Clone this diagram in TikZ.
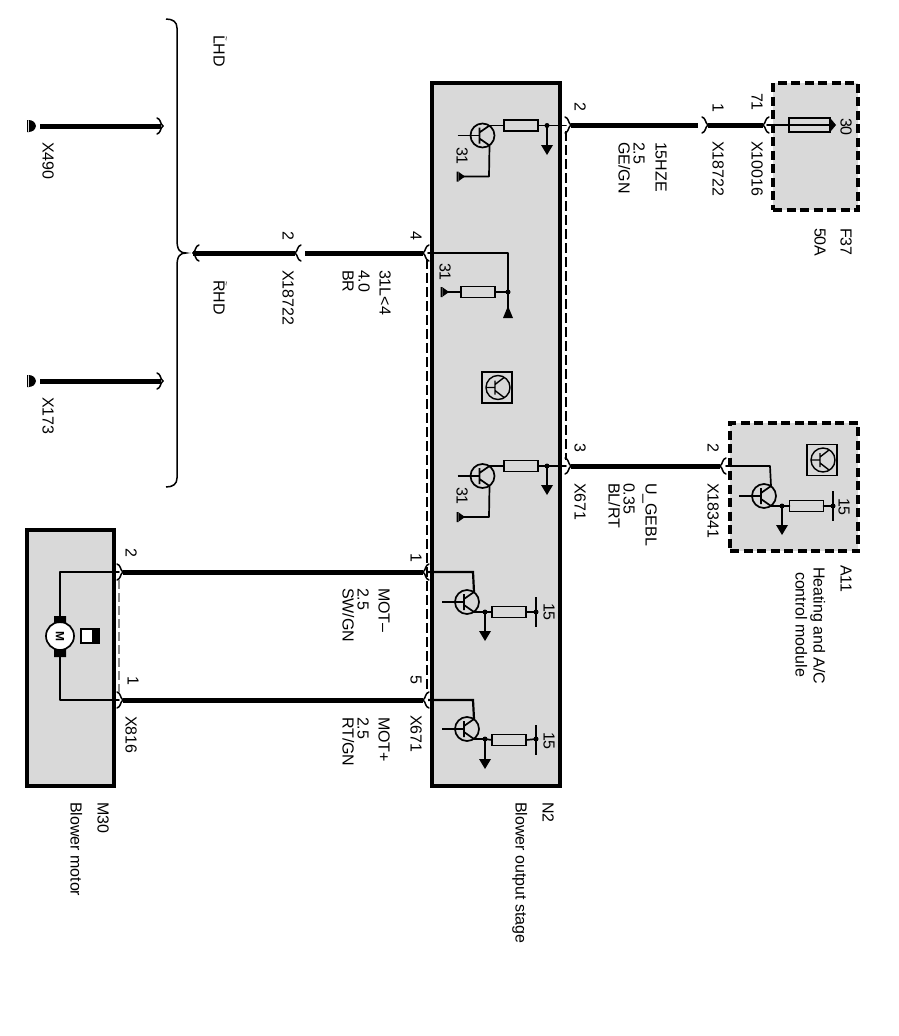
\documentclass[tikz,border=0pt]{standalone}
\usepackage{fontspec}
\setmainfont{Liberation Sans}
\newcommand\tildemark{\rlap{\hspace{1pt}\raisebox{10pt}{\fontsize{8}{8}\selectfont\textasciitilde}}}
\tikzset{
  x=1pt,y=-1pt,
  inner sep=0pt,outer sep=0pt,
  wire/.style={line width=5pt},
  thin wire/.style={line width=1.7pt,line cap=round,line join=round},
  pinline/.style={line width=1.5pt,line cap=round},
  linkdash/.style={line width=1.6pt,dash pattern=on 10pt off 4pt},
  solidbox/.style={rectangle,draw,line width=4pt,fill=black!15},
  dashbox/.style={rectangle,draw,line width=3.2pt,fill=black!15,dash pattern=on 9pt off 4.5pt},
  resbox/.style={rectangle,draw,line width=1.5pt,fill=black!15,minimum width=34pt,minimum height=11pt},
  iconbox/.style={rectangle,draw,line width=1.5pt,fill=black!15,minimum width=30pt,minimum height=31pt},
  lbl/.style={rotate=-90,anchor=base west,font=\fontsize{16}{18}\selectfont},
}
\newcommand\lab[4]{\node[lbl] (#1) at (#2-4.5,#3) {#4};}
% pin fork: name, x, y (apex), direction (1: apex to the right, -1: apex to the left)
\newcommand\pin[4]{\coordinate (#1) at (#2,#3);
  \draw[pinline,shift={(#1)},xscale=#4] (-6,-8) .. controls (-2,-7) and (-3,-2) .. (0,0) .. controls (-3,2) and (-2,7) .. (-6,8);}
% ground with left-facing bar
\newcommand\gndl[2]{\fill[shift={(#1,#2)}] (-1.5,-5) rectangle (0.5,5) (0,-5) -- (7,0) -- (0,5) -- cycle;}
% arrow pointing down
\newcommand\arrd[2]{\fill[shift={(#1,#2)}] (-6,-8) -- (6,-8) -- (0,2) -- cycle;}
% transistor body, collector at top right, emitter at bottom right
\newcommand\trans[3]{\coordinate (#1c) at (#2+7,#3-10); \coordinate (#1e) at (#2+7,#3+10);
  \coordinate (#1b) at (#2-25,#3);
  \draw[line width=1.7pt] (#2,#3) circle[radius=12];
  \draw[line width=1.7pt] (#2-3,#3-8) -- (#2-3,#3+8) (#2-3,#3-3) -- (#1c) (#2-3,#3+3) -- (#1e);
  \draw[line width=1.5pt] (#1b) -- (#2-3,#3);}
\newcommand\icon[3]{\node[iconbox] (#1) at (#2,#3) {};
  \draw[line width=1.4pt] (#2+1,#3) circle[radius=12];
  \draw[line width=1.4pt] (#2-11,#3) -- (#2-2,#3) (#2-2,#3-7) -- (#2-2,#3+7) (#2-2,#3-3) -- (#2+7,#3-10) (#2-2,#3+3) -- (#2+7,#3+10);}
\begin{document}
\begin{tikzpicture}
\useasboundingbox (0,0) rectangle (899,1036);
\fill[white] (0,0) rectangle (899,1036);

% ---- boxes
\node[solidbox,minimum width=128pt,minimum height=703pt] (N2) at (496,434.5) {};
\node[solidbox,minimum width=87pt,minimum height=256pt] (M30) at (70.5,658) {};
\node[dashbox,minimum width=85pt,minimum height=127pt] (F37) at (815.5,146.5) {};
\node[dashbox,minimum width=128pt,minimum height=128pt] (A11) at (794,487) {};

% ---- pins
\pin{pA}{571}{125}{1}
\pin{pB}{708}{125}{1}
\pin{pC}{763}{125}{-1}
\pin{pD}{571}{466}{1}
\pin{pE}{720}{466}{-1}
\pin{pF}{423}{253}{-1}
\pin{pG}{295}{253}{-1}
\pin{pH}{193}{253}{-1}
\pin{pI}{163}{126}{1}
\pin{pJ}{163}{381}{1}
\pin{pK}{423}{572}{-1}
\pin{pL}{423}{700}{-1}
\pin{pM}{123}{572}{1}
\pin{pN}{123}{700}{1}

% ---- pin links
\draw[linkdash] (566,131) -- (566,460);
\draw[linkdash] (427,259) -- (427,694);
\draw[line width=2.5pt,black!45,dash pattern=on 9pt off 4pt] (119,580) -- (119,692);

% ---- thick wires
\coordinate (wA) at (698,125); \coordinate (wG) at (305,253);
\coordinate (gX490) at (40,126); \coordinate (gX173) at (40,381);
\draw[wire] (pA) -- (wA);
\draw[wire] (pB) -- (pC);
\draw[wire] (pD) -- (pE);
\draw[wire] (pF) -- (wG);
\draw[wire] (pG) -- (pH);
\draw[wire] (gX490) -- (161,126);
\draw[wire] (gX173) -- (161,381);
\draw[wire] (pM) -- (pK);
\draw[wire] (pN) -- (pL);

% ---- ground points at X490, X173
\fill (27,120) rectangle (29,132) (28,120) .. controls (33,120) and (35,122) .. (36,126) .. controls (35,130) and (33,132) .. (28,132) -- cycle;
\fill (27,375) rectangle (29,387) (28,375) .. controls (33,375) and (35,377) .. (36,381) .. controls (35,385) and (33,387) .. (28,387) -- cycle;

% ---- brace
\draw[line width=1.5pt] (166,19) .. controls (173,19) and (177,22) .. (177,28) -- (177,240) .. controls (177,250) and (180,253) .. (186,253) .. controls (180,253) and (177,256) .. (177,266) -- (177,478) .. controls (177,484) and (173,487) .. (166,487);

% ---- N2 first stage (pin 2)
\trans{tA}{482.5}{135.5}
\node[resbox] (rA) at (521,125.5) {};
\coordinate (dA) at (547,125.5);
\draw[thin wire] (tAc) -- (490,125.5) -- (rA.west) (rA.east) -- (dA) -- (566,125.5);
\fill (dA) circle[radius=2.5];
\draw[thin wire] (dA) -- (547,148); \arrd{547}{153}
\coordinate (eA) at (489,176.5);
\draw[thin wire] (tAe) -- (eA) -- (461,176.5); \gndl{458}{176.5}

% ---- N2 second stage (pin 4)
\node[resbox] (rB) at (478,292) {};
\coordinate (dB) at (508,292);
\draw[thin wire] (428,253) -- (508,253) -- (dB) -- (rB.east) (rB.west) -- (446,292);
\gndl{442}{292}
\fill (dB) circle[radius=2.5];
\draw[thin wire] (dB) -- (508,310);
\fill (503,318) -- (513,318) -- (508,306) -- cycle;

% ---- icon N2
\icon{iN}{497}{387.5}

% ---- N2 third stage (pin 3)
\trans{tC}{482.5}{476}
\node[resbox] (rC) at (521,466) {};
\coordinate (dC) at (547,466);
\draw[thin wire] (tCc) -- (490,466) -- (rC.west) (rC.east) -- (dC) -- (566,466);
\fill (dC) circle[radius=2.5];
\draw[thin wire] (dC) -- (547,488); \arrd{547}{493}
\coordinate (eC) at (489,517);
\draw[thin wire] (tCe) -- (eC) -- (461,517); \gndl{458}{517}

% ---- N2 fourth stage (pin 1)
\trans{tD}{467}{602}
\node[resbox] (rD) at (509,612) {};
\coordinate (dD) at (485,612); \coordinate (bD) at (536,612);
\draw[line width=2.2pt] (428,572) -- (473,572) -- (tDc);
\draw[thin wire] (tDe) -- (dD) -- (rD.west) (rD.east) -- (bD);
\fill (dD) circle[radius=2.5] (bD) circle[radius=2.5];
\draw[line width=1.6pt] (536,597) -- (536,627);
\draw[thin wire] (dD) -- (485,633); \arrd{485}{639}

% ---- N2 fifth stage (pin 5)
\trans{tE}{467}{729}
\node[resbox] (rE) at (509,740) {};
\coordinate (dE) at (485,739); \coordinate (bE) at (536,739);
\draw[line width=2.2pt] (428,700) -- (473,700) -- (tEc);
\draw[thin wire] (tEe) -- (dE) -- (rE.west) (rE.east) -- (bE);
\fill (dE) circle[radius=2.5] (bE) circle[radius=2.5];
\draw[line width=1.6pt] (536,725) -- (536,755);
\draw[thin wire] (dE) -- (485,761); \arrd{485}{767}

% ---- F37 fuse
\node[rectangle,draw,line width=1.7pt,fill=black!15,minimum width=41pt,minimum height=14pt] (fuse) at (809.5,125) {};
\draw[thin wire] (767,125) -- (fuse.west);
\draw[line width=1.3pt] (fuse.west) -- (fuse.east);
\fill (829,119) -- (831,119) -- (836,125) -- (831,131) -- (829,131) -- cycle;

% ---- A11
\icon{iA}{822}{460}
\trans{tF}{764}{496}
\node[resbox] (rF) at (806.5,506) {};
\coordinate (dF) at (782,506); \coordinate (bF) at (833,506);
\draw[thin wire] (726,466) -- (770,466) -- (tFc);
\draw[thin wire] (tFe) -- (dF) -- (rF.west) (rF.east) -- (bF);
\fill (dF) circle[radius=2.5] (bF) circle[radius=2.5];
\draw[line width=1.6pt] (833,491) -- (833,521);
\draw[thin wire] (dF) -- (782,527); \arrd{782}{533}

% ---- M30 motor
\coordinate (mt) at (60,617); \coordinate (mb) at (60,656);
\draw[thin wire] (119,572) -- (60,572) -- (mt);
\draw[thin wire] (119,700) -- (60,700) -- (mb);
\draw[line width=1.7pt,fill=white] (60,636) circle[radius=14];
\fill (54,616) rectangle (66,623) (54,649) rectangle (66,657);
\node[rotate=-90,font=\bfseries\fontsize{12}{12}\selectfont] (mM) at (60,636) {M};
\node[rectangle,draw,line width=1.6pt,fill=white,minimum width=18pt,minimum height=14pt] (mI) at (90,636) {};
\fill (92,629) rectangle (99,643);

% ---- labels
\lab{l1}{579}{102}{2}
\lab{l2}{717}{103}{1}
\lab{l3}{756}{93}{71}
\lab{l4}{845}{118}{30}
\lab{l5}{717}{141}{X18722}
\lab{l6}{756}{141}{X10016}
\lab{l7}{660}{142}{15HZE}
\lab{l8}{638}{142}{2.5}
\lab{l9}{623}{142}{GE/GN}
\lab{l10}{845}{228}{F37}
\lab{l11}{819}{228}{50A}
\lab{l12}{461}{147}{31}
\lab{l13}{444}{263}{31}
\lab{l14}{461}{487}{31}
\lab{l15}{579}{443}{3}
\lab{l16}{579}{483}{X671}
\lab{l17}{650}{483}{U\_GEBL}
\lab{l18}{628}{483}{0.35}
\lab{l19}{613}{483}{BL/RT}
\lab{l20}{712}{443}{2}
\lab{l21}{712}{483}{X18341}
\lab{l22}{843}{498}{15}
\lab{l23}{548}{603}{15}
\lab{l24}{548}{732}{15}
\lab{l25}{845}{565}{A11}
\lab{l26}{818}{567}{Heating and A/C}
\lab{l27}{800}{572}{control module}
\lab{l28}{415}{231}{4}
\lab{l29}{287}{231}{2}
\lab{l30}{287}{270}{X18722}
\lab{l31}{384}{270}{31L<4}
\lab{l32}{363}{270}{4.0}
\lab{l33}{347}{270}{BR}
\lab{l34}{383}{588}{MOT–}
\lab{l35}{362}{588}{2.5}
\lab{l36}{347}{588}{SW/GN}
\lab{l37}{383}{717}{MOT+}
\lab{l38}{362}{717}{2.5}
\lab{l39}{347}{717}{RT/GN}
\lab{l40}{415}{553}{1}
\lab{l41}{415}{675}{5}
\lab{l42}{415}{715}{X671}
\lab{l43}{130}{548}{2}
\lab{l44}{132}{676}{1}
\lab{l45}{130}{716}{X816}
\lab{l46}{102}{802}{M30}
\lab{l47}{75}{802}{Blower motor}
\lab{l48}{547}{802}{N2}
\lab{l49}{520}{802}{Blower output stage}
\lab{l50}{47}{142}{X490}
\lab{l51}{47}{397}{X173}
\lab{l52}{218}{35}{\tildemark LHD}
\lab{l53}{218}{280}{\tildemark RHD}
\end{tikzpicture}
\end{document}
